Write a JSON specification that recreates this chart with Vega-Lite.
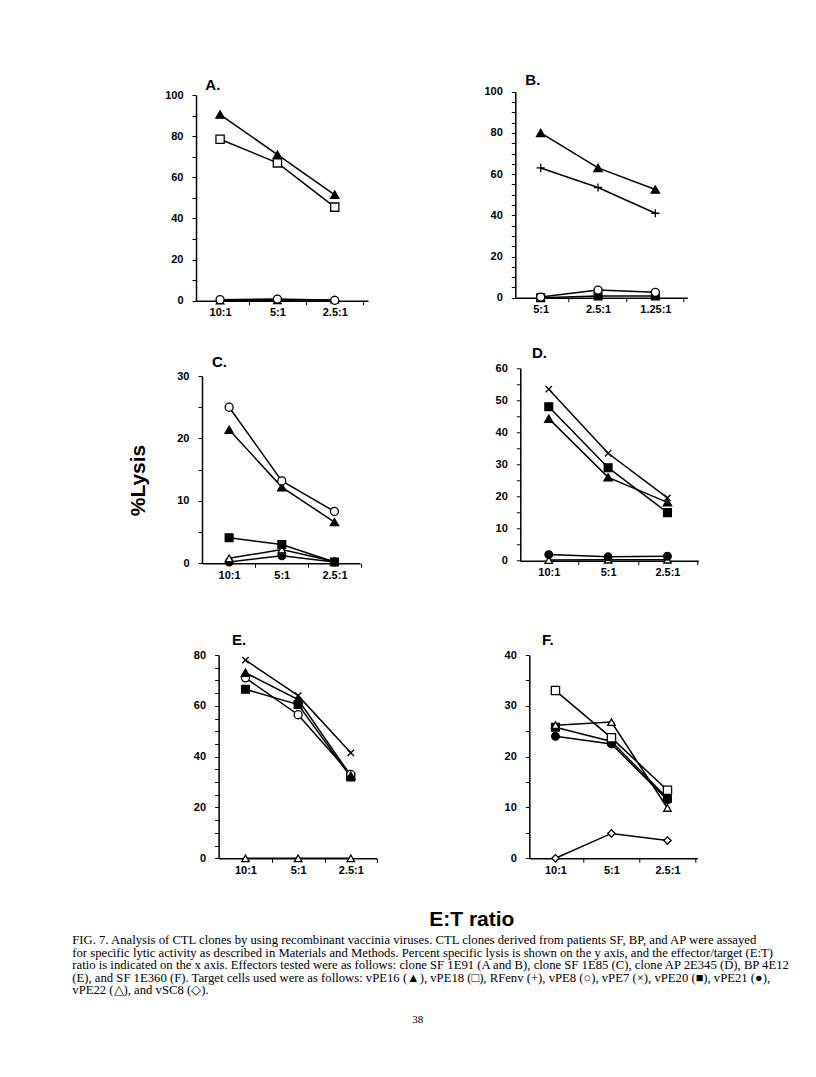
{
  "$schema": "https://vega.github.io/schema/vega-lite/v6.json",
  "padding": {"left": 72, "top": 73, "right": 0, "bottom": 0},
  "background": "white",
  "config": {
    "view": {"stroke": null},
    "axis": {"grid": false, "domainColor": "black", "domainWidth": 1.5, "tickColor": "black", "tickWidth": 1, "labelColor": "black", "labelFont": "Liberation Sans", "labelFontWeight": "bold", "labelFontSize": 11, "labelOverlap": false, "labelFlush": false},
    "axisX": {"tickSize": 4, "labelPadding": 2, "labelAngle": 0},
    "axisY": {"tickSize": 4, "labelPadding": 9},
    "title": {"anchor": "start", "frame": "group", "baseline": "bottom", "font": "Liberation Sans", "fontSize": 15, "fontWeight": "bold", "color": "black"}
  },
  "data": {"values": [
    {"panel": "A", "series": "vPE22", "ratio": "10:1", "lysis": 0},
    {"panel": "A", "series": "vPE22", "ratio": "5:1", "lysis": 0.2},
    {"panel": "A", "series": "vPE22", "ratio": "2.5:1", "lysis": 0.5},
    {"panel": "A", "series": "vPE8", "ratio": "10:1", "lysis": 0.5},
    {"panel": "A", "series": "vPE8", "ratio": "5:1", "lysis": 0.8},
    {"panel": "A", "series": "vPE8", "ratio": "2.5:1", "lysis": 0.2},
    {"panel": "A", "series": "vPE18", "ratio": "10:1", "lysis": 78.5},
    {"panel": "A", "series": "vPE18", "ratio": "5:1", "lysis": 67},
    {"panel": "A", "series": "vPE18", "ratio": "2.5:1", "lysis": 45.5},
    {"panel": "A", "series": "vPE16", "ratio": "10:1", "lysis": 90.5},
    {"panel": "A", "series": "vPE16", "ratio": "5:1", "lysis": 71},
    {"panel": "A", "series": "vPE16", "ratio": "2.5:1", "lysis": 51.5},
    {"panel": "B", "series": "vPE20", "ratio": "5:1", "lysis": 0},
    {"panel": "B", "series": "vPE20", "ratio": "2.5:1", "lysis": 0.8},
    {"panel": "B", "series": "vPE20", "ratio": "1.25:1", "lysis": 0.8},
    {"panel": "B", "series": "vPE8", "ratio": "5:1", "lysis": 0.3},
    {"panel": "B", "series": "vPE8", "ratio": "2.5:1", "lysis": 3.7},
    {"panel": "B", "series": "vPE8", "ratio": "1.25:1", "lysis": 2.6},
    {"panel": "B", "series": "RFenv", "ratio": "5:1", "lysis": 63},
    {"panel": "B", "series": "RFenv", "ratio": "2.5:1", "lysis": 53.5},
    {"panel": "B", "series": "RFenv", "ratio": "1.25:1", "lysis": 41},
    {"panel": "B", "series": "vPE16", "ratio": "5:1", "lysis": 80},
    {"panel": "B", "series": "vPE16", "ratio": "2.5:1", "lysis": 63},
    {"panel": "B", "series": "vPE16", "ratio": "1.25:1", "lysis": 52.5},
    {"panel": "C", "series": "vPE21", "ratio": "10:1", "lysis": 0.2},
    {"panel": "C", "series": "vPE21", "ratio": "5:1", "lysis": 1.2},
    {"panel": "C", "series": "vPE21", "ratio": "2.5:1", "lysis": 0.2},
    {"panel": "C", "series": "vPE22", "ratio": "10:1", "lysis": 0.8},
    {"panel": "C", "series": "vPE22", "ratio": "5:1", "lysis": 2.2},
    {"panel": "C", "series": "vPE22", "ratio": "2.5:1", "lysis": 0.3},
    {"panel": "C", "series": "vPE20", "ratio": "10:1", "lysis": 4.1},
    {"panel": "C", "series": "vPE20", "ratio": "5:1", "lysis": 3.0},
    {"panel": "C", "series": "vPE20", "ratio": "2.5:1", "lysis": 0.2},
    {"panel": "C", "series": "vPE16", "ratio": "10:1", "lysis": 21.4},
    {"panel": "C", "series": "vPE16", "ratio": "5:1", "lysis": 12.2},
    {"panel": "C", "series": "vPE16", "ratio": "2.5:1", "lysis": 6.6},
    {"panel": "C", "series": "vPE8", "ratio": "10:1", "lysis": 25},
    {"panel": "C", "series": "vPE8", "ratio": "5:1", "lysis": 13.2},
    {"panel": "C", "series": "vPE8", "ratio": "2.5:1", "lysis": 8.3},
    {"panel": "D", "series": "vPE22", "ratio": "10:1", "lysis": 0.2},
    {"panel": "D", "series": "vPE22", "ratio": "5:1", "lysis": 0.3},
    {"panel": "D", "series": "vPE22", "ratio": "2.5:1", "lysis": 0.3},
    {"panel": "D", "series": "vPE21", "ratio": "10:1", "lysis": 1.9},
    {"panel": "D", "series": "vPE21", "ratio": "5:1", "lysis": 1.2},
    {"panel": "D", "series": "vPE21", "ratio": "2.5:1", "lysis": 1.4},
    {"panel": "D", "series": "vPE16", "ratio": "10:1", "lysis": 44.3},
    {"panel": "D", "series": "vPE16", "ratio": "5:1", "lysis": 26},
    {"panel": "D", "series": "vPE16", "ratio": "2.5:1", "lysis": 18.2},
    {"panel": "D", "series": "vPE20", "ratio": "10:1", "lysis": 48},
    {"panel": "D", "series": "vPE20", "ratio": "5:1", "lysis": 29},
    {"panel": "D", "series": "vPE20", "ratio": "2.5:1", "lysis": 15},
    {"panel": "D", "series": "vPE7", "ratio": "10:1", "lysis": 53.5},
    {"panel": "D", "series": "vPE7", "ratio": "5:1", "lysis": 33.5},
    {"panel": "D", "series": "vPE7", "ratio": "2.5:1", "lysis": 19.6},
    {"panel": "E", "series": "vPE22", "ratio": "10:1", "lysis": 0},
    {"panel": "E", "series": "vPE22", "ratio": "5:1", "lysis": 0},
    {"panel": "E", "series": "vPE22", "ratio": "2.5:1", "lysis": 0},
    {"panel": "E", "series": "vPE20", "ratio": "10:1", "lysis": 66.5},
    {"panel": "E", "series": "vPE20", "ratio": "5:1", "lysis": 60.5},
    {"panel": "E", "series": "vPE20", "ratio": "2.5:1", "lysis": 32},
    {"panel": "E", "series": "vPE8", "ratio": "10:1", "lysis": 71},
    {"panel": "E", "series": "vPE8", "ratio": "5:1", "lysis": 56.5},
    {"panel": "E", "series": "vPE8", "ratio": "2.5:1", "lysis": 33},
    {"panel": "E", "series": "vPE16", "ratio": "10:1", "lysis": 73},
    {"panel": "E", "series": "vPE16", "ratio": "5:1", "lysis": 62.5},
    {"panel": "E", "series": "vPE16", "ratio": "2.5:1", "lysis": 32.5},
    {"panel": "E", "series": "vPE7", "ratio": "10:1", "lysis": 78},
    {"panel": "E", "series": "vPE7", "ratio": "5:1", "lysis": 64},
    {"panel": "E", "series": "vPE7", "ratio": "2.5:1", "lysis": 41.5},
    {"panel": "F", "series": "vSC8", "ratio": "10:1", "lysis": 0},
    {"panel": "F", "series": "vSC8", "ratio": "5:1", "lysis": 4.9},
    {"panel": "F", "series": "vSC8", "ratio": "2.5:1", "lysis": 3.5},
    {"panel": "F", "series": "vPE20", "ratio": "10:1", "lysis": 25.8},
    {"panel": "F", "series": "vPE20", "ratio": "5:1", "lysis": 23},
    {"panel": "F", "series": "vPE20", "ratio": "2.5:1", "lysis": 11.8},
    {"panel": "F", "series": "vPE21", "ratio": "10:1", "lysis": 24},
    {"panel": "F", "series": "vPE21", "ratio": "5:1", "lysis": 22.5},
    {"panel": "F", "series": "vPE21", "ratio": "2.5:1", "lysis": 11.5},
    {"panel": "F", "series": "vPE22", "ratio": "10:1", "lysis": 26.2},
    {"panel": "F", "series": "vPE22", "ratio": "5:1", "lysis": 26.8},
    {"panel": "F", "series": "vPE22", "ratio": "2.5:1", "lysis": 9.9},
    {"panel": "F", "series": "vPE18", "ratio": "10:1", "lysis": 33},
    {"panel": "F", "series": "vPE18", "ratio": "5:1", "lysis": 23.7},
    {"panel": "F", "series": "vPE18", "ratio": "2.5:1", "lysis": 13.4}
  ]},
  "vconcat": [
    {
      "spacing": 97.3,
      "hconcat": [
        {
          "spacing": 37,
          "vconcat": [
            {
              "width": 172, "height": 205.7,
              "title": {"text": "A.", "frame": "group", "offset": -4, "dx": 9.3},
              "transform": [{"filter": "datum.panel === 'A'"}],
              "encoding": {
                "x": {"field": "ratio", "type": "ordinal", "title": null, "scale": {"type": "point", "domain": ["10:1", "5:1", "2.5:1"], "paddingOuter": 0.5, "align": 0.42}, "axis": {"tickOffset": 28.7, "labelOffset": -28.7}},
                "y": {"field": "lysis", "type": "quantitative", "title": null, "scale": {"domain": [0, 100], "nice": false}, "axis": {"values": [0, 10, 20, 30, 40, 50, 60, 70, 80, 90, 100], "labelExpr": "datum.value % 20 === 0 ? datum.label : ''"}}
              },
              "layer": [
                {"mark": {"type": "line", "color": "black", "strokeWidth": 1.5}, "encoding": {"detail": {"field": "series"}, "order": {"value": null}}},
                {"mark": {"type": "point", "filled": false, "stroke": "black", "strokeWidth": 1.3, "opacity": 1}, "encoding": {
                  "shape": {"field": "series", "type": "nominal", "legend": null, "scale": {"domain": ["vPE16", "vPE18", "RFenv", "vPE8", "vPE7", "vPE20", "vPE21", "vPE22", "vSC8"], "range": ["triangle-up", "square", "M-1,0L1,0M0,-1L0,1", "circle", "M-0.8,-0.8L0.8,0.8M-0.8,0.8L0.8,-0.8", "square", "circle", "triangle-up", "diamond"]}},
                  "fill": {"field": "series", "type": "nominal", "legend": null, "scale": {"domain": ["vPE16", "vPE18", "RFenv", "vPE8", "vPE7", "vPE20", "vPE21", "vPE22", "vSC8"], "range": ["black", "white", "white", "white", "white", "black", "black", "white", "white"]}},
                  "size": {"field": "series", "type": "nominal", "legend": null, "scale": {"domain": ["vPE16", "vPE18", "RFenv", "vPE8", "vPE7", "vPE20", "vPE21", "vPE22", "vSC8"], "range": [70, 55, 80, 55, 70, 55, 55, 65, 20]}}
                }}
              ]
            },
            {
              "spacing": 52,
              "vconcat": [
                {
                  "width": 164, "height": 187.3,
                  "title": {"text": "C.", "frame": "group", "offset": 0, "dx": 16},
                  "transform": [{"filter": "datum.panel === 'C'"}],
                  "encoding": {
                    "x": {"field": "ratio", "type": "ordinal", "title": null, "scale": {"type": "point", "domain": ["10:1", "5:1", "2.5:1"], "range": [6, 164], "paddingOuter": 0.505, "align": 0.515}, "axis": {"tickOffset": 26.25, "labelOffset": -26.25}},
                    "y": {"field": "lysis", "type": "quantitative", "scale": {"domain": [0, 30], "nice": false}, "axis": {"offset": -6, "values": [0, 5, 10, 15, 20, 25, 30], "labelExpr": "datum.value % 10 === 0 ? datum.label : ''", "title": "%Lysis", "titleFont": "Liberation Sans", "titleFontWeight": "bold", "titleFontSize": 21, "titleColor": "black", "titleAngle": 270, "titleAlign": "center", "titleBaseline": "alphabetic", "titleX": -57.7, "titleY": 104}}
                  },
                  "layer": [
                    {"mark": {"type": "line", "color": "black", "strokeWidth": 1.5}, "encoding": {"detail": {"field": "series"}, "order": {"value": null}}},
                    {"mark": {"type": "point", "filled": false, "stroke": "black", "strokeWidth": 1.3, "opacity": 1}, "encoding": {
                      "shape": {"field": "series", "type": "nominal", "legend": null, "scale": {"domain": ["vPE16", "vPE18", "RFenv", "vPE8", "vPE7", "vPE20", "vPE21", "vPE22", "vSC8"], "range": ["triangle-up", "square", "M-1,0L1,0M0,-1L0,1", "circle", "M-0.8,-0.8L0.8,0.8M-0.8,0.8L0.8,-0.8", "square", "circle", "triangle-up", "diamond"]}},
                      "fill": {"field": "series", "type": "nominal", "legend": null, "scale": {"domain": ["vPE16", "vPE18", "RFenv", "vPE8", "vPE7", "vPE20", "vPE21", "vPE22", "vSC8"], "range": ["black", "white", "white", "white", "white", "black", "black", "white", "white"]}},
                      "size": {"field": "series", "type": "nominal", "legend": null, "scale": {"domain": ["vPE16", "vPE18", "RFenv", "vPE8", "vPE7", "vPE20", "vPE21", "vPE22", "vSC8"], "range": [70, 55, 80, 55, 70, 55, 55, 65, 20]}}
                    }}
                  ]
                },
                {
                  "width": 181, "height": 203.3,
                  "title": {"text": "E.", "frame": "group", "offset": 1, "dx": 36},
                  "transform": [{"filter": "datum.panel === 'E'"}],
                  "encoding": {
                    "x": {"field": "ratio", "type": "ordinal", "title": null, "scale": {"type": "point", "domain": ["10:1", "5:1", "2.5:1"], "range": [22.6, 180.6], "paddingOuter": 0.495, "align": 0.51}, "axis": {"tickOffset": 26.4, "labelOffset": -26.4}},
                    "y": {"field": "lysis", "type": "quantitative", "title": null, "scale": {"domain": [0, 80], "nice": false}, "axis": {"offset": -22.6, "values": [0, 5, 10, 15, 20, 25, 30, 35, 40, 45, 50, 55, 60, 65, 70, 75, 80], "labelExpr": "datum.value % 20 === 0 ? datum.label : ''"}}
                  },
                  "layer": [
                    {"mark": {"type": "line", "color": "black", "strokeWidth": 1.5}, "encoding": {"detail": {"field": "series"}, "order": {"value": null}}},
                    {"mark": {"type": "point", "filled": false, "stroke": "black", "strokeWidth": 1.3, "opacity": 1}, "encoding": {
                      "shape": {"field": "series", "type": "nominal", "legend": null, "scale": {"domain": ["vPE16", "vPE18", "RFenv", "vPE8", "vPE7", "vPE20", "vPE21", "vPE22", "vSC8"], "range": ["triangle-up", "square", "M-1,0L1,0M0,-1L0,1", "circle", "M-0.8,-0.8L0.8,0.8M-0.8,0.8L0.8,-0.8", "square", "circle", "triangle-up", "diamond"]}},
                      "fill": {"field": "series", "type": "nominal", "legend": null, "scale": {"domain": ["vPE16", "vPE18", "RFenv", "vPE8", "vPE7", "vPE20", "vPE21", "vPE22", "vSC8"], "range": ["black", "white", "white", "white", "white", "black", "black", "white", "white"]}},
                      "size": {"field": "series", "type": "nominal", "legend": null, "scale": {"domain": ["vPE16", "vPE18", "RFenv", "vPE8", "vPE7", "vPE20", "vPE21", "vPE22", "vSC8"], "range": [70, 55, 80, 55, 70, 55, 55, 65, 20]}}
                    }}
                  ]
                }
              ]
            }
          ]
        },
        {
          "spacing": 31.3,
          "vconcat": [
            {
              "width": 172, "height": 202.7,
              "title": {"text": "B.", "frame": "group", "offset": -2.3, "dx": 10},
              "transform": [{"filter": "datum.panel === 'B'"}],
              "encoding": {
                "x": {"field": "ratio", "type": "ordinal", "title": null, "scale": {"type": "point", "domain": ["5:1", "2.5:1", "1.25:1"], "paddingOuter": 0.54, "align": 0.443}, "axis": {"tickOffset": 27.9, "labelOffset": -27.9}},
                "y": {"field": "lysis", "type": "quantitative", "title": null, "scale": {"domain": [0, 100], "range": [202.7, -3.3], "nice": false}, "axis": {"values": [0, 5, 10, 15, 20, 25, 30, 35, 40, 45, 50, 55, 60, 65, 70, 75, 80, 85, 90, 95, 100], "labelExpr": "datum.value % 20 === 0 ? datum.label : ''", "minExtent": 40}}
              },
              "layer": [
                {"mark": {"type": "line", "color": "black", "strokeWidth": 1.5}, "encoding": {"detail": {"field": "series"}, "order": {"value": null}}},
                {"mark": {"type": "point", "filled": false, "stroke": "black", "strokeWidth": 1.3, "opacity": 1}, "encoding": {
                  "shape": {"field": "series", "type": "nominal", "legend": null, "scale": {"domain": ["vPE16", "vPE18", "RFenv", "vPE8", "vPE7", "vPE20", "vPE21", "vPE22", "vSC8"], "range": ["triangle-up", "square", "M-1,0L1,0M0,-1L0,1", "circle", "M-0.8,-0.8L0.8,0.8M-0.8,0.8L0.8,-0.8", "square", "circle", "triangle-up", "diamond"]}},
                  "fill": {"field": "series", "type": "nominal", "legend": null, "scale": {"domain": ["vPE16", "vPE18", "RFenv", "vPE8", "vPE7", "vPE20", "vPE21", "vPE22", "vSC8"], "range": ["black", "white", "white", "white", "white", "black", "black", "white", "white"]}},
                  "size": {"field": "series", "type": "nominal", "legend": null, "scale": {"domain": ["vPE16", "vPE18", "RFenv", "vPE8", "vPE7", "vPE20", "vPE21", "vPE22", "vSC8"], "range": [70, 55, 80, 55, 70, 55, 55, 65, 20]}}
                }}
              ]
            },
            {
              "spacing": 54.7,
              "vconcat": [
                {
                  "width": 183, "height": 192.4,
                  "title": {"text": "D.", "frame": "group", "offset": 1, "dx": 16.7},
                  "transform": [{"filter": "datum.panel === 'D'"}],
                  "encoding": {
                    "x": {"field": "ratio", "type": "ordinal", "title": null, "scale": {"type": "point", "domain": ["10:1", "5:1", "2.5:1"], "range": [5, 183], "paddingOuter": 0.496, "align": 0.48}, "axis": {"tickOffset": 29.75, "labelOffset": -29.75}},
                    "y": {"field": "lysis", "type": "quantitative", "title": null, "scale": {"domain": [0, 60], "nice": false}, "axis": {"offset": -5, "values": [0, 5, 10, 15, 20, 25, 30, 35, 40, 45, 50, 55, 60], "labelExpr": "datum.value % 10 === 0 ? datum.label : ''"}}
                  },
                  "layer": [
                    {"mark": {"type": "line", "color": "black", "strokeWidth": 1.5}, "encoding": {"detail": {"field": "series"}, "order": {"value": null}}},
                    {"mark": {"type": "point", "filled": false, "stroke": "black", "strokeWidth": 1.3, "opacity": 1}, "encoding": {
                      "shape": {"field": "series", "type": "nominal", "legend": null, "scale": {"domain": ["vPE16", "vPE18", "RFenv", "vPE8", "vPE7", "vPE20", "vPE21", "vPE22", "vSC8"], "range": ["triangle-up", "square", "M-1,0L1,0M0,-1L0,1", "circle", "M-0.8,-0.8L0.8,0.8M-0.8,0.8L0.8,-0.8", "square", "circle", "triangle-up", "diamond"]}},
                      "fill": {"field": "series", "type": "nominal", "legend": null, "scale": {"domain": ["vPE16", "vPE18", "RFenv", "vPE8", "vPE7", "vPE20", "vPE21", "vPE22", "vSC8"], "range": ["black", "white", "white", "white", "white", "black", "black", "white", "white"]}},
                      "size": {"field": "series", "type": "nominal", "legend": null, "scale": {"domain": ["vPE16", "vPE18", "RFenv", "vPE8", "vPE7", "vPE20", "vPE21", "vPE22", "vSC8"], "range": [70, 55, 80, 55, 70, 55, 55, 65, 20]}}
                    }}
                  ]
                },
                {
                  "width": 182, "height": 203.3,
                  "title": {"text": "F.", "frame": "group", "offset": 1, "dx": 26.7},
                  "transform": [{"filter": "datum.panel === 'F'"}],
                  "encoding": {
                    "x": {"field": "ratio", "type": "ordinal", "title": null, "scale": {"type": "point", "domain": ["10:1", "5:1", "2.5:1"], "range": [14, 182], "paddingOuter": 0.496, "align": 0.467}, "axis": {"tickOffset": 28.1, "labelOffset": -28.1}},
                    "y": {"field": "lysis", "type": "quantitative", "title": null, "scale": {"domain": [0, 40], "nice": false}, "axis": {"offset": -14, "values": [0, 5, 10, 15, 20, 25, 30, 35, 40], "labelExpr": "datum.value % 10 === 0 ? datum.label : ''"}}
                  },
                  "layer": [
                    {"mark": {"type": "line", "color": "black", "strokeWidth": 1.5}, "encoding": {"detail": {"field": "series"}, "order": {"value": null}}},
                    {"mark": {"type": "point", "filled": false, "stroke": "black", "strokeWidth": 1.3, "opacity": 1}, "encoding": {
                      "shape": {"field": "series", "type": "nominal", "legend": null, "scale": {"domain": ["vPE16", "vPE18", "RFenv", "vPE8", "vPE7", "vPE20", "vPE21", "vPE22", "vSC8"], "range": ["triangle-up", "square", "M-1,0L1,0M0,-1L0,1", "circle", "M-0.8,-0.8L0.8,0.8M-0.8,0.8L0.8,-0.8", "square", "circle", "triangle-up", "diamond"]}},
                      "fill": {"field": "series", "type": "nominal", "legend": null, "scale": {"domain": ["vPE16", "vPE18", "RFenv", "vPE8", "vPE7", "vPE20", "vPE21", "vPE22", "vSC8"], "range": ["black", "white", "white", "white", "white", "black", "black", "white", "white"]}},
                      "size": {"field": "series", "type": "nominal", "legend": null, "scale": {"domain": ["vPE16", "vPE18", "RFenv", "vPE8", "vPE7", "vPE20", "vPE21", "vPE22", "vSC8"], "range": [70, 55, 80, 55, 70, 55, 55, 65, 20]}}
                    }}
                  ]
                }
              ]
            }
          ]
        }
      ]
    },
    {
      "width": 690, "height": 50,
      "data": {"values": [
        {"line": 1, "text": "\u00a0\u00a0\u00a0\u00a0FIG. 7. Analysis of CTL clones by using recombinant vaccinia viruses. CTL clones derived from patients SF, BP, and AP were assayed"},
        {"line": 2, "text": "for specific lytic activity as described in Materials and Methods. Percent specific lysis is shown on the y axis, and the effector/target (E:T)"},
        {"line": 3, "text": "ratio is indicated on the x axis. Effectors tested were as follows: clone SF 1E91 (A and B), clone SF 1E85 (C), clone AP 2E345 (D), BP 4E12"},
        {"line": 4, "text": "(E), and SF 1E360 (F). Target cells used were as follows: vPE16 (\u25b2), vPE18 (\u25a1), RFenv (+), vPE8 (\u25cb), vPE7 (\u00d7), vPE20 (\u25a0), vPE21 (\u25cf),"},
        {"line": 5, "text": "vPE22 (\u25b3), and vSC8 (\u25c7)."}
      ]},
      "title": {"text": "E:T ratio", "frame": "group", "anchor": "middle", "dx": -69.2, "offset": 3.6, "fontSize": 21},
      "mark": {"type": "text", "align": "left", "baseline": "alphabetic", "font": "Liberation Serif", "fontSize": 12.7, "color": "black"},
      "encoding": {
        "x": {"datum": 0, "type": "quantitative", "scale": {"domain": [0, 1], "range": [-123.7, 566.3]}, "axis": {"title": "38", "domain": false, "ticks": false, "labels": false, "grid": false, "titleFont": "Liberation Serif", "titleFontSize": 11, "titleFontWeight": "normal", "titleColor": "black", "titlePadding": 19}},
        "y": {"field": "line", "type": "ordinal", "scale": {"type": "point", "padding": 0}, "axis": null},
        "text": {"field": "text"}
      }
    }
  ],
  "spacing": 33
}
